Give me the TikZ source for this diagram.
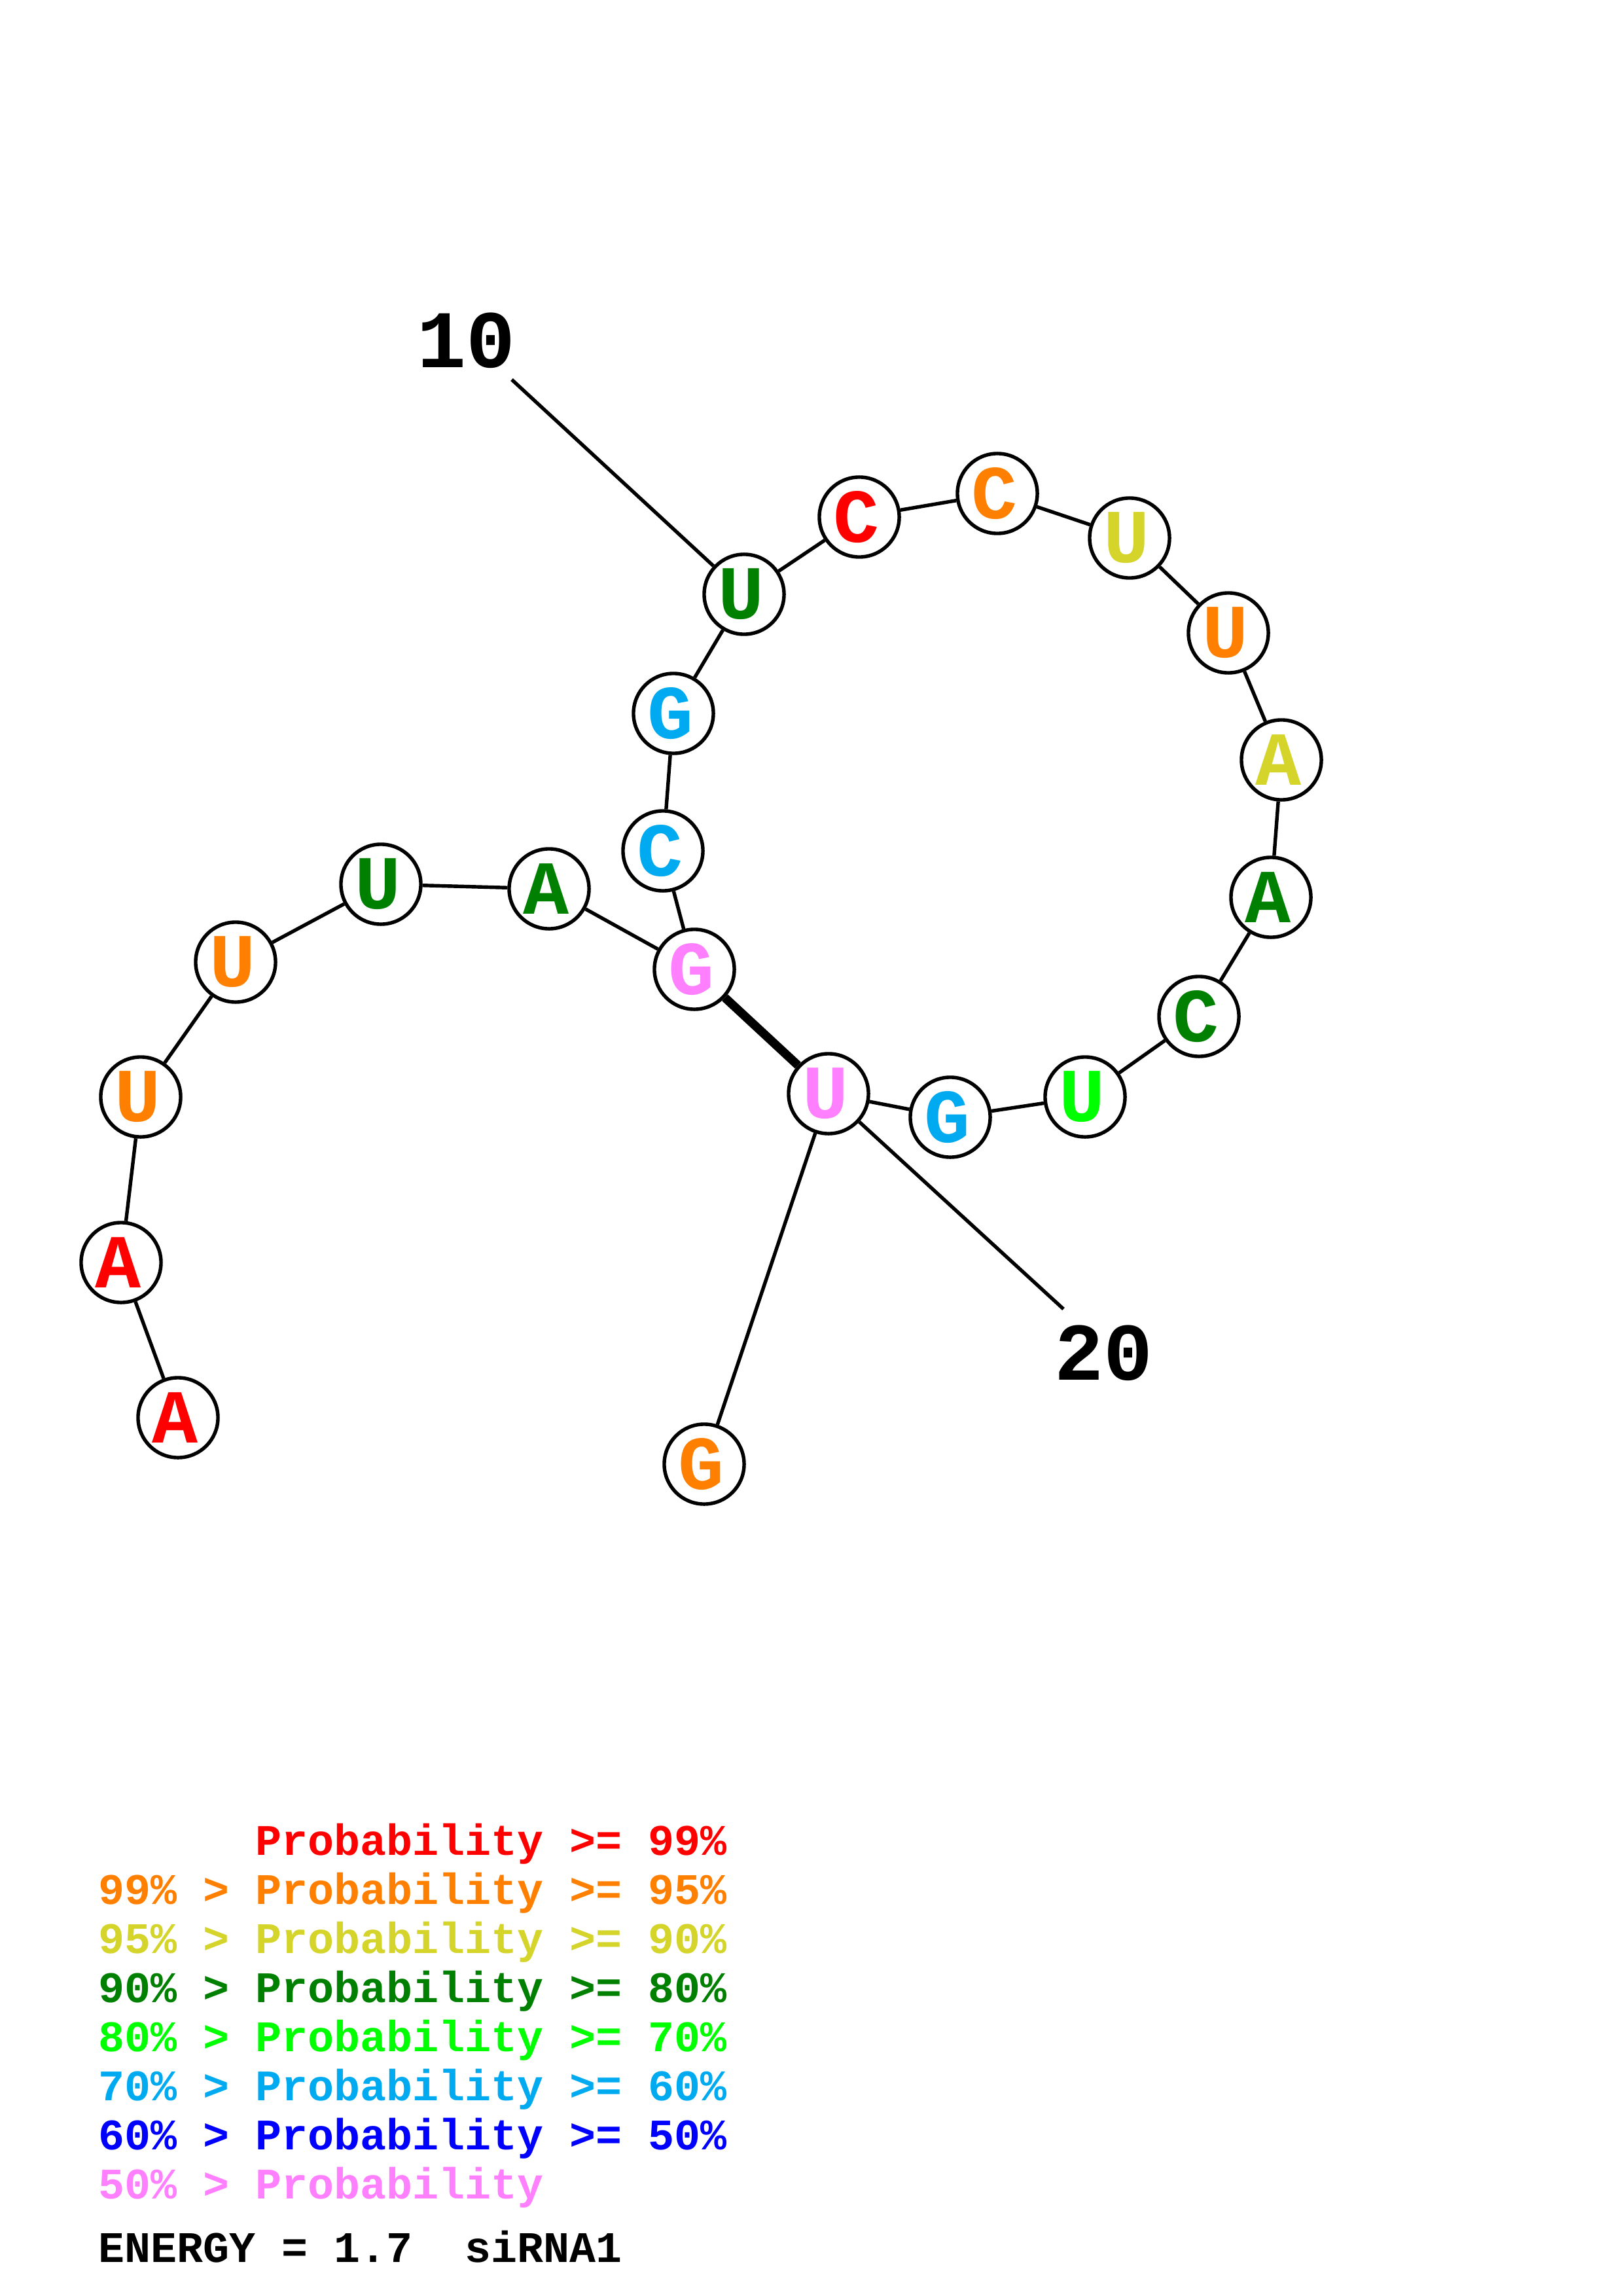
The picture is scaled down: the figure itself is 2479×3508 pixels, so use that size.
\documentclass[tikz,border=0pt]{standalone}
\usepackage{fontspec}
\newfontfamily\cour{Liberation Mono}
\definecolor{prA}{RGB}{255,0,0}
\definecolor{prB}{RGB}{255,128,0}
\definecolor{prC}{RGB}{212,212,42}
\definecolor{prD}{RGB}{0,128,0}
\definecolor{prE}{RGB}{0,255,0}
\definecolor{prF}{RGB}{0,170,240}
\definecolor{prG}{RGB}{0,0,255}
\definecolor{prH}{RGB}{255,128,255}
\newcommand{\bl}[1]{\hspace*{-2pt}\raisebox{-1.6pt}{#1}}
\begin{document}
\begin{tikzpicture}[x=0.24pt,y=-0.24pt,
  base/.style={circle, draw=black, line width=1.3pt, fill=white, minimum size=29.3pt,
    inner sep=0pt, font=\cour\bfseries\fontsize{28}{28}\selectfont},
  bb/.style={line width=1.3pt},
  pairline/.style={line width=3.2pt},
  numlab/.style={font=\cour\bfseries\fontsize{30}{30}\selectfont, inner sep=0pt},
  leg/.style={anchor=base west, inner sep=0pt, font=\cour\bfseries\fontsize{16}{16}\selectfont}]
\useasboundingbox[fill=white] (0,0) rectangle (2479,3508);

\node[base, text=prA] (n1)  at (272,2166) {\bl{A}};
\node[base, text=prA] (n2)  at (185,1929) {\bl{A}};
\node[base, text=prB] (n3)  at (215,1676) {\bl{U}};
\node[base, text=prB] (n4)  at (360,1470) {\bl{U}};
\node[base, text=prD] (n5)  at (582,1351) {\bl{U}};
\node[base, text=prD] (n6)  at (839,1358) {\bl{A}};
\node[base, text=prH] (n7)  at (1061,1481) {\bl{G}};
\node[base, text=prF] (n8)  at (1013,1300) {\bl{C}};
\node[base, text=prF] (n9)  at (1029,1090) {\bl{G}};
\node[base, text=prD] (n10) at (1137,908) {\bl{U}};
\node[base, text=prA] (n11) at (1313,790) {\bl{C}};
\node[base, text=prB] (n12) at (1524,754) {\bl{C}};
\node[base, text=prC] (n13) at (1726,822) {\bl{U}};
\node[base, text=prB] (n14) at (1877,967) {\bl{U}};
\node[base, text=prC] (n15) at (1958,1161) {\bl{A}};
\node[base, text=prD] (n16) at (1942,1371) {\bl{A}};
\node[base, text=prD] (n17) at (1832,1553) {\bl{C}};
\node[base, text=prE] (n18) at (1658,1676) {\bl{U}};
\node[base, text=prF] (n19) at (1452,1707) {\bl{G}};
\node[base, text=prH] (n20) at (1266,1671) {\bl{U}};
\node[base, text=prB] (n21) at (1076,2237) {\bl{G}};

\foreach \a/\b in {1/2,2/3,3/4,4/5,5/6,6/7,7/8,8/9,9/10,10/11,11/12,12/13,13/14,14/15,15/16,16/17,17/18,18/19,19/20,20/21}
  \draw[bb] (n\a) -- (n\b);
\draw[pairline] (n7) -- (n20);

\coordinate (l10) at (782,580);
\coordinate (l20) at (1625,2000);
\draw[bb] (n10) -- (l10);
\draw[bb] (n20) -- (l20);
\node[numlab] (t10) at (712,520) {10};
\node[numlab] (t20) at (1686,2067) {20};

\node[leg, text=prA] (g1) at (150,2834) {~~~~~~Probability >= 99\%};
\node[leg, text=prB] (g2) at (150,2909) {99\% > Probability >= 95\%};
\node[leg, text=prC] (g3) at (150,2984) {95\% > Probability >= 90\%};
\node[leg, text=prD] (g4) at (150,3059) {90\% > Probability >= 80\%};
\node[leg, text=prE] (g5) at (150,3134) {80\% > Probability >= 70\%};
\node[leg, text=prF] (g6) at (150,3209) {70\% > Probability >= 60\%};
\node[leg, text=prG] (g7) at (150,3284) {60\% > Probability >= 50\%};
\node[leg, text=prH] (g8) at (150,3359) {50\% > Probability};
\node[leg, text=black] (en) at (150,3456) {ENERGY = 1.7~~siRNA1};
\end{tikzpicture}
\end{document}
